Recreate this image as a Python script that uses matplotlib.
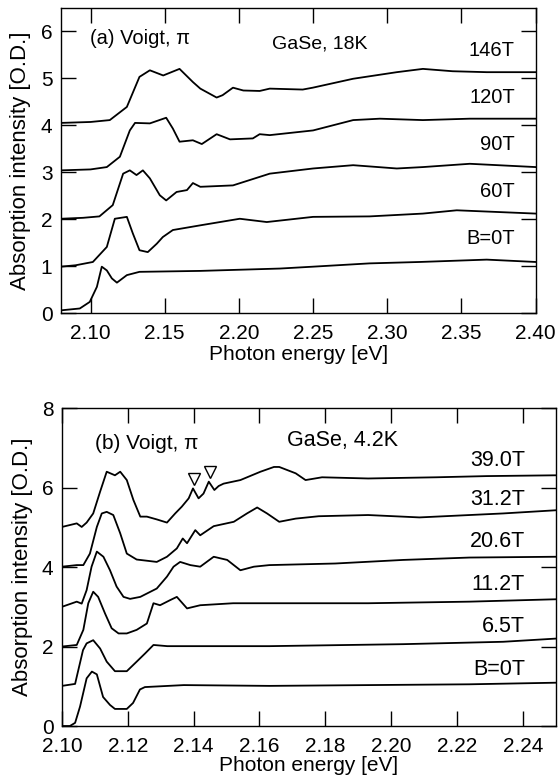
import matplotlib
matplotlib.use('Agg')
import matplotlib.pyplot as plt

plt.rcParams['font.family'] = ['Liberation Sans', 'DejaVu Sans']

# ---- panel (a): GaSe, 18K, spectra offset by 1 O.D. each ----
a_labels = ['B=0T', '60T', '90T', '120T', '146T']

a_x0 = [2.080, 2.0928, 2.0995, 2.1043, 2.1076, 2.111, 2.1144, 2.1178, 2.1245, 2.133, 2.174,
        2.2276, 2.25, 2.288, 2.3219, 2.367, 2.400]
a_y0 = [0.06, 0.10, 0.24, 0.56, 0.99, 0.91, 0.74, 0.65, 0.81, 0.88, 0.90,
        0.95, 0.99, 1.06, 1.09, 1.14, 1.09]

a_x60 = [2.080, 2.090, 2.1016, 2.111, 2.1164, 2.1245, 2.1285, 2.133, 2.1386, 2.1447, 2.1487,
         2.1555, 2.174, 2.2006, 2.2188, 2.25, 2.288, 2.324, 2.3468, 2.400]
a_y60 = [0.99, 1.02, 1.09, 1.41, 2.01, 2.05, 1.70, 1.34, 1.30, 1.48, 1.62,
         1.77, 1.87, 2.01, 1.94, 2.05, 2.06, 2.12, 2.19, 2.12]

a_x90 = [2.080, 2.095, 2.106, 2.115, 2.122, 2.1265, 2.131, 2.1353, 2.140, 2.1467, 2.151,
         2.158, 2.165, 2.169, 2.174, 2.196, 2.2208, 2.25, 2.277, 2.3064, 2.324, 2.3556, 2.400]
a_y90 = [2.01, 2.03, 2.06, 2.30, 2.97, 3.04, 2.94, 3.04, 2.87, 2.51, 2.40,
         2.58, 2.62, 2.77, 2.69, 2.72, 2.97, 3.08, 3.15, 3.08, 3.11, 3.18, 3.11]

a_x120 = [2.080, 2.100, 2.111, 2.1198, 2.1265, 2.130, 2.140, 2.151, 2.1555, 2.160, 2.169,
          2.175, 2.185, 2.194, 2.2094, 2.214, 2.2208, 2.25, 2.277, 2.295, 2.324, 2.3556, 2.400]
a_y120 = [3.04, 3.06, 3.11, 3.33, 3.89, 4.05, 4.04, 4.16, 3.93, 3.65, 3.68,
          3.60, 3.81, 3.70, 3.72, 3.81, 3.79, 3.89, 4.11, 4.14, 4.11, 4.14, 4.14]

a_x146 = [2.080, 2.100, 2.113, 2.1245, 2.133, 2.140, 2.149, 2.160, 2.169, 2.174, 2.185,
          2.189, 2.196, 2.203, 2.214, 2.2208, 2.243, 2.2498, 2.277, 2.3064, 2.324, 2.344,
          2.367, 2.400]
a_y146 = [4.05, 4.07, 4.11, 4.39, 5.03, 5.17, 5.06, 5.20, 4.92, 4.78, 4.59,
          4.64, 4.80, 4.74, 4.73, 4.78, 4.76, 4.80, 4.99, 5.13, 5.20, 5.15,
          5.13, 5.13]

a_label_y = [1.59, 2.58, 3.60, 4.60, 5.60]

# ---- panel (b): GaSe, 4.2K, spectra offset by 1 O.D. each ----
b_labels = ['B=0T', '6.5T', '11.2T', '20.6T', '31.2T', '39.0T']

b_x0 = [2.100, 2.1024, 2.104, 2.1055, 2.1075, 2.1091, 2.1106, 2.1125, 2.1146, 2.1161, 2.1197,
        2.1216, 2.1237, 2.1252, 2.137, 2.163, 2.193, 2.2238, 2.250]
b_y0 = [0.0, 0.0, 0.08, 0.49, 1.20, 1.37, 1.30, 0.73, 0.53, 0.43, 0.43,
        0.58, 0.92, 0.98, 1.03, 1.01, 1.03, 1.05, 1.09]

b_x65 = [2.100, 2.104, 2.1045, 2.1064, 2.1075, 2.1095, 2.1116, 2.1136, 2.1161, 2.1197, 2.1227,
         2.1253, 2.1278, 2.132, 2.150, 2.163, 2.2036, 2.234, 2.250]
b_y65 = [1.01, 1.06, 1.24, 1.91, 2.08, 2.16, 1.95, 1.62, 1.38, 1.38, 1.62,
         1.83, 2.04, 2.01, 2.01, 2.01, 2.06, 2.12, 2.20]

b_x112 = [2.100, 2.1045, 2.1065, 2.108, 2.1095, 2.111, 2.1131, 2.1151, 2.1172, 2.1197, 2.1227,
          2.1258, 2.1278, 2.1298, 2.1329, 2.1349, 2.138, 2.142, 2.152, 2.163, 2.193,
          2.2238, 2.250]
b_y112 = [2.00, 2.04, 2.42, 3.09, 3.38, 3.25, 2.83, 2.46, 2.33, 2.33, 2.42,
          2.58, 3.09, 3.04, 3.17, 3.25, 2.96, 3.04, 3.09, 3.09, 3.09,
          3.13, 3.19]

b_x206 = [2.100, 2.1045, 2.106, 2.1075, 2.109, 2.1106, 2.1126, 2.1146, 2.1166, 2.1187, 2.1207,
          2.1238, 2.1288, 2.1319, 2.1339, 2.1359, 2.139, 2.142, 2.1461, 2.1502, 2.1542,
          2.1583, 2.163, 2.183, 2.2036, 2.2238, 2.250]
b_y206 = [3.00, 3.13, 3.08, 3.42, 4.01, 4.39, 4.26, 3.92, 3.51, 3.25, 3.20,
          3.25, 3.46, 3.76, 4.01, 4.13, 4.05, 4.01, 4.26, 4.18, 3.92,
          4.01, 4.05, 4.09, 4.18, 4.24, 4.26]

b_x312 = [2.100, 2.1045, 2.1065, 2.1085, 2.1106, 2.1121, 2.1136, 2.1156, 2.1177, 2.1197, 2.1227,
          2.1258, 2.1288, 2.1319, 2.1349, 2.1367, 2.138, 2.1405, 2.142, 2.1461, 2.1522,
          2.1562, 2.1593, 2.1623, 2.166, 2.171, 2.178, 2.193, 2.2086, 2.2238, 2.234, 2.250]
b_y312 = [4.01, 4.05, 4.05, 4.34, 5.01, 5.35, 5.39, 5.31, 4.85, 4.34, 4.19,
          4.16, 4.13, 4.26, 4.47, 4.72, 4.60, 4.93, 4.80, 5.03, 5.14,
          5.35, 5.50, 5.35, 5.14, 5.22, 5.28, 5.31, 5.25, 5.31, 5.35, 5.43]

b_x390 = [2.100, 2.1045, 2.106, 2.1075, 2.1095, 2.1116, 2.1136, 2.1161, 2.1177, 2.1197, 2.1217,
          2.1238, 2.1258, 2.1288, 2.1319, 2.1344, 2.1364, 2.1385, 2.1398, 2.1415, 2.143,
          2.1446, 2.1463, 2.1476, 2.1491, 2.1542, 2.1603, 2.1644, 2.166, 2.171, 2.174,
          2.179, 2.193, 2.2137, 2.229, 2.250]
b_y390 = [5.01, 5.10, 5.01, 5.12, 5.35, 5.90, 6.40, 6.31, 6.40, 6.19, 5.69,
          5.27, 5.27, 5.20, 5.12, 5.35, 5.52, 5.73, 5.98, 5.73, 5.85,
          6.15, 5.94, 6.04, 6.10, 6.19, 6.40, 6.52, 6.52, 6.36, 6.19,
          6.26, 6.23, 6.26, 6.29, 6.31]

b_label_y = [1.41, 2.50, 3.55, 4.64, 5.69, 6.69]
b_marker_x = [2.1401, 2.1450]
b_marker_y = [6.21, 6.39]

fs_tick = 15
fig = plt.figure(figsize=(5.58, 7.81), dpi=100)


def style_axes(ax):
    ax.tick_params(direction='in', length=11, width=1.0, top=True, right=True,
                   labelsize=fs_tick)
    ax.tick_params(axis='x', pad=8)
    ax.tick_params(axis='y', pad=6)
    for s in ax.spines.values():
        s.set_linewidth(1.0)


ax1 = fig.add_axes([0.109, 0.599, 0.851, 0.391])
for xs, ys in [(a_x0, a_y0), (a_x60, a_y60), (a_x90, a_y90), (a_x120, a_y120), (a_x146, a_y146)]:
    ax1.plot(xs, ys, color='black', lw=1.3)
for lab, ly in zip(a_labels, a_label_y):
    ax1.text(2.386, ly, lab, ha='right', va='center', fontsize=14.5)
ax1.text(2.0995, 5.85, '(a) Voigt, π', ha='left', va='center', fontsize=14.5)
ax1.text(2.2225, 5.74, 'GaSe, 18K', ha='left', va='center', fontsize=14)
ax1.set_xlim(2.08, 2.40)
ax1.set_ylim(0, 6.5)
ax1.set_xticks([2.10, 2.15, 2.20, 2.25, 2.30, 2.35, 2.40])
ax1.set_xticklabels(['2.10', '2.15', '2.20', '2.25', '2.30', '2.35', '2.40'])
ax1.set_yticks([0, 1, 2, 3, 4, 5, 6])
ax1.set_xlabel('Photon energy [eV]', fontsize=15)
ax1.set_ylabel('Absorption intensity [O.D.]', fontsize=16)
ax1.xaxis.set_label_coords(0.5, -0.105)
ax1.yaxis.set_label_coords(-0.063, 0.5)
style_axes(ax1)

ax2 = fig.add_axes([0.111, 0.0704, 0.885, 0.407])
for xs, ys in [(b_x0, b_y0), (b_x65, b_y65), (b_x112, b_y112), (b_x206, b_y206),
               (b_x312, b_y312), (b_x390, b_y390)]:
    ax2.plot(xs, ys, color='black', lw=1.3)
ax2.plot(b_marker_x, b_marker_y, linestyle='none', marker='v', markersize=8.5,
         markerfacecolor='white', markeredgecolor='black', markeredgewidth=1.0)
for lab, ly in zip(b_labels, b_label_y):
    ax2.text(2.2406, ly, lab, ha='right', va='center', fontsize=15.5)
ax2.text(2.110, 7.11, '(b) Voigt, π', ha='left', va='center', fontsize=15)
ax2.text(2.1683, 7.19, 'GaSe, 4.2K', ha='left', va='center', fontsize=15.5)
ax2.set_xlim(2.10, 2.25)
ax2.set_ylim(0, 8)
ax2.set_xticks([2.10, 2.12, 2.14, 2.16, 2.18, 2.20, 2.22, 2.24])
ax2.set_xticklabels(['2.10', '2.12', '2.14', '2.16', '2.18', '2.20', '2.22', '2.24'])
ax2.set_yticks([0, 2, 4, 6, 8])
ax2.set_xlabel('Photon energy [eV]', fontsize=15)
ax2.set_ylabel('Absorption intensity [O.D.]', fontsize=16)
ax2.xaxis.set_label_coords(0.5, -0.094)
ax2.yaxis.set_label_coords(-0.059, 0.5)
style_axes(ax2)

fig.savefig('out.png', dpi=100)
